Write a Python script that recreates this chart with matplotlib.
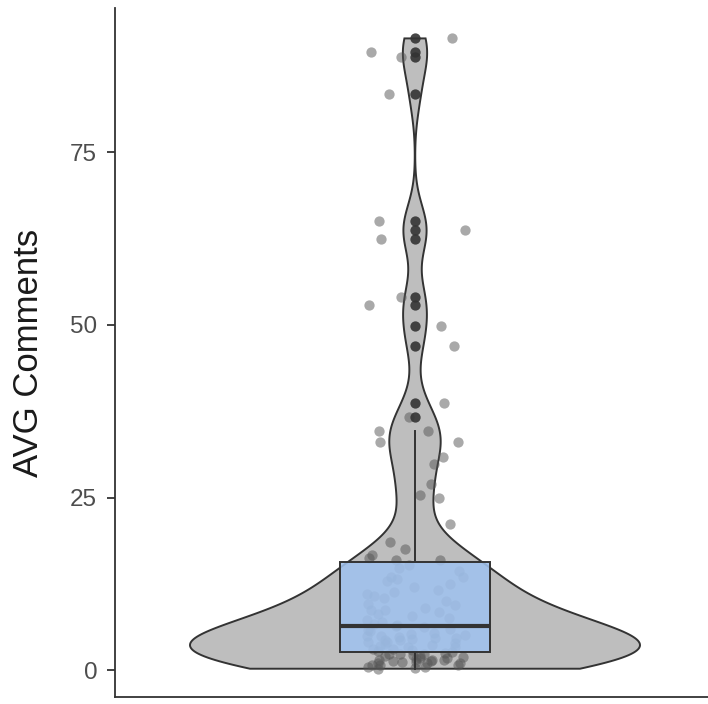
import numpy as np
import matplotlib.pyplot as plt

plt.rcParams['font.family'] = ['Liberation Sans', 'DejaVu Sans']

# average comments per account, sorted
low = [0.2, 0.3, 0.4, 0.5, 0.7, 0.7, 0.8, 1.0, 1.0, 1.1, 1.2, 1.2, 1.3, 1.3,
       1.4, 1.5, 1.5, 1.6, 1.7, 1.8, 1.9, 2.0, 2.1, 2.2, 2.3, 2.3, 2.4, 2.5,
       2.6, 2.75]
mid = [2.9, 3.0, 3.1, 3.3, 3.4, 3.5, 3.6, 3.8, 3.9, 4.0, 4.1, 4.3, 4.4, 4.5,
       4.6, 4.6, 4.8, 4.9, 5.0, 5.1, 5.3, 5.4, 5.6, 5.8, 6.0, 6.2, 6.4, 6.5]
upper = [6.7, 7.0, 7.2, 7.5, 7.8, 8.1, 8.4, 8.7, 8.7, 9.0, 9.4, 9.6, 10.0,
         10.4, 10.8, 11.0, 11.3, 11.6, 12.0, 12.4, 12.9, 13.2, 13.5, 13.5,
         14.3, 14.8, 15.2, 15.9]
tail = [16.0, 16.3, 16.7, 17.5, 18.6, 21.1, 24.9, 25.3, 26.9, 29.8, 30.8,
        33.0, 33.0, 34.6, 34.7, 36.6, 38.7, 46.9, 49.8, 52.9, 54.1, 62.5,
        63.7, 65.1, 83.4, 88.8, 89.5, 91.5]

avg_comments = np.array(low + mid + upper + tail)
yticks = [0, 25, 50, 75]

line_col = '#333333'
lw = 1.4

fig = plt.figure(figsize=(7.08, 7.04), dpi=100)
ax = fig.add_axes([0.1624, 0.0099, 0.8475, 0.9787])

# violin: gaussian kde with nrd0 bandwidth, trimmed to the data range
y = avg_comments
n = len(y)
iqr = np.percentile(y, 75) - np.percentile(y, 25)
bw = 0.9 * min(np.std(y, ddof=1), iqr / 1.34) * n ** -0.2
grid = np.linspace(y.min(), y.max(), 512)
dens = np.exp(-0.5 * ((grid[:, None] - y[None, :]) / bw) ** 2).sum(axis=1)
half = dens / dens.max() * 0.45
vx = np.concatenate([1 - half, (1 + half)[::-1]])
vy = np.concatenate([grid, grid[::-1]])
ax.fill(vx, vy, facecolor='#BEBEBE', edgecolor=line_col, linewidth=lw, zorder=1)

# jittered raw points
rng = np.random.default_rng(11)
jx = 1 + rng.uniform(-0.1, 0.1, n)
ax.scatter(jx, y, s=55, color='#555555', alpha=0.5, linewidths=0, zorder=2)

# boxplot with outliers
q1, med, q3 = np.percentile(y, [25, 50, 75])
lo_fence, hi_fence = q1 - 1.5 * (q3 - q1), q3 + 1.5 * (q3 - q1)
inside = y[(y >= lo_fence) & (y <= hi_fence)]
out = y[(y < lo_fence) | (y > hi_fence)]
ax.scatter(np.ones(len(out)), out, s=55, color='#333333', alpha=0.9,
           linewidths=0, zorder=3)
ax.plot([1, 1], [q3, inside.max()], color=line_col, lw=lw, zorder=3)
ax.plot([1, 1], [inside.min(), q1], color=line_col, lw=lw, zorder=3)
ax.add_patch(plt.Rectangle((0.85, q1), 0.3, q3 - q1, facecolor='#A0C2EE',
                           alpha=0.88, edgecolor='none', zorder=4))
ax.add_patch(plt.Rectangle((0.85, q1), 0.3, q3 - q1, facecolor='none',
                           edgecolor=line_col, lw=lw, zorder=5))
ax.plot([0.85, 1.15], [med, med], color=line_col, lw=3, zorder=5,
        solid_capstyle='butt')

ax.set_xlim(0.4, 1.6)
ax.set_ylim(-3.9, 95.9)
ax.set_xticks([])
ax.set_yticks(yticks)
ax.tick_params(axis='y', length=5.8, width=1.3, color=line_col,
               labelsize=17.5, labelcolor='#4D4D4D', pad=7)
for side in ['top', 'right']:
    ax.spines[side].set_visible(False)
for side in ['left', 'bottom']:
    ax.spines[side].set_linewidth(1.3)
    ax.spines[side].set_color(line_col)
ax.set_ylabel('AVG Comments', fontsize=25, color='#1A1A1A', labelpad=18)

fig.savefig('out.png', dpi=100)
